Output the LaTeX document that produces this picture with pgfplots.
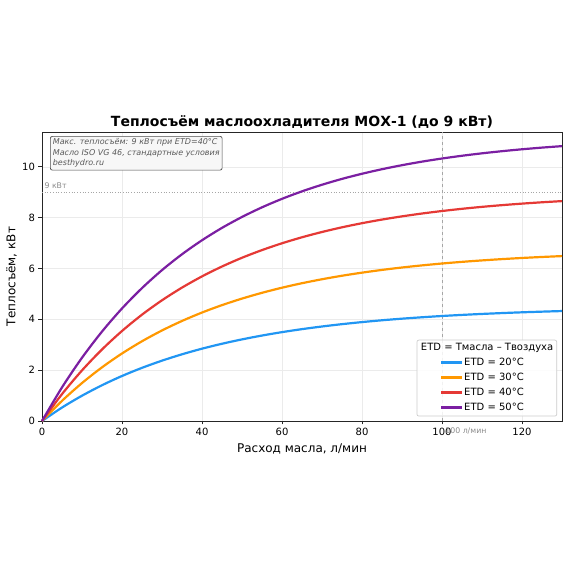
\documentclass[border=0pt]{standalone}
\usepackage{fontspec}
\setmainfont{DejaVu Sans}
\usepackage{pgfplots}
\pgfplotsset{compat=1.18}
\usepackage{pgfplotstable}
\definecolor{c20}{HTML}{2196F3}
\definecolor{c30}{HTML}{FF9800}
\definecolor{c40}{HTML}{E53935}
\definecolor{c50}{HTML}{7B1FA2}
\pgfplotstableread{
f e20 e30 e40 e50
0 0 0 0 0
5 0.529 0.793 1.058 1.322
10 0.995 1.493 1.991 2.489
15 1.407 2.111 2.814 3.518
20 1.771 2.656 3.541 4.427
25 2.091 3.137 4.183 5.228
30 2.374 3.562 4.749 5.936
35 2.624 3.936 5.248 6.560
40 2.845 4.267 5.689 7.111
45 3.039 4.559 6.078 7.598
50 3.211 4.816 6.422 8.027
55 3.362 5.043 6.724 8.406
60 3.496 5.244 6.992 8.740
65 3.614 5.421 7.228 9.035
70 3.718 5.577 7.436 9.295
75 3.810 5.715 7.620 9.525
80 3.891 5.836 7.782 9.727
85 3.963 5.944 7.925 9.906
90 4.026 6.039 8.051 10.064
95 4.081 6.122 8.163 10.204
100 4.131 6.196 8.261 10.327
105 4.174 6.261 8.348 10.435
110 4.212 6.318 8.425 10.531
115 4.246 6.369 8.492 10.615
120 4.276 6.414 8.552 10.690
125 4.302 6.453 8.605 10.756
130 4.326 6.488 8.651 10.814
}\data
\begin{document}
\begin{tikzpicture}[x=1pt,y=1pt]
\path[use as bounding box, fill=white] (0,0) rectangle (570,570);
\begin{axis}[
  at={(42pt,149pt)}, anchor=south west,
  scale only axis, width=520pt, height=289pt,
  xmin=0, xmax=130, ymin=0, ymax=11.37,
  xtick={0,20,...,120}, ytick={0,2,...,10},
  tick align=outside, tick pos=left,
  major tick length=3.5pt,
  tick style={black!85, line width=0.8pt},
  grid=major, grid style={black!8, line width=0.6pt},
  axis line style={black!85, line width=0.8pt},
  ticklabel style={font=\fontsize{10}{12}\selectfont},
  /pgf/number format/assume math mode=true,
  xlabel={Расход масла, л/мин}, ylabel={Теплосъём, кВт},
  label style={font=\fontsize{12}{14}\selectfont},
  xlabel style={yshift=-1pt},
  ylabel style={yshift=-1.5pt},
  clip=false,
  legend style={at={(0.765,0.222)}, anchor=north west, draw=none, fill=none,
    inner sep=0pt, font=\fontsize{10}{12}\selectfont, row sep=4pt,
    nodes={inner sep=1pt, text height=7.5pt, text depth=1.5pt}},
  legend cell align=left,
  legend image code/.code={\draw[#1] (0pt,0pt) -- (21pt,0pt);},
  /tikz/every even column/.append style={column sep=5pt},
]
\draw[black!35, dotted, line width=0.7pt] (axis cs:0,9) -- (axis cs:130,9);
\draw[black!35, dashed, line width=0.7pt] (axis cs:100,0) -- (axis cs:100,11.37);
\node[anchor=south west, text=black!45, font=\fontsize{7.8}{8}\selectfont, inner sep=0pt] at (axis cs:0.6,9.12) {9 кВт};
\node[anchor=west, text=black!45, font=\fontsize{7.8}{8}\selectfont, inner sep=0pt] at ([yshift=-10pt]axis cs:100.8,0) {100 л/мин};
\addplot[c20, line width=2.2pt, smooth] table[x=f, y=e20] {\data};
\addlegendentry{ETD = 20°C}
\addplot[c30, line width=2.2pt, smooth] table[x=f, y=e30] {\data};
\addlegendentry{ETD = 30°C}
\addplot[c40, line width=2.2pt, smooth] table[x=f, y=e40] {\data};
\addlegendentry{ETD = 40°C}
\addplot[c50, line width=2.2pt, smooth] table[x=f, y=e50] {\data};
\addlegendentry{ETD = 50°C}
\node[anchor=north west, draw=black!70, fill=black!3, rounded corners=2pt, line width=0.7pt,
  inner sep=2.5pt, align=left, text=black!65, font=\fontsize{8}{10.5}\selectfont\itshape]
  at (rel axis cs:0.0154,0.986) {Макс. теплосъём: 9 кВт при ETD=40°C\\Масло ISO VG 46, стандартные условия\\besthydro.ru};
\draw[black!20, fill=white, fill opacity=0.85, rounded corners=2pt, line width=0.7pt]
  (rel axis cs:0.721,0.017) rectangle (rel axis cs:0.990,0.280);
\node[font=\fontsize{10}{12}\selectfont, inner sep=0pt] at (rel axis cs:0.856,0.254) {ETD = Тмасла – Твоздуха};
\end{axis}
\node[font=\fontsize{14}{16}\selectfont\bfseries, anchor=base] at (302,443) {Теплосъём маслоохладителя МОХ-1 (до 9 кВт)};
\end{tikzpicture}
\end{document}
